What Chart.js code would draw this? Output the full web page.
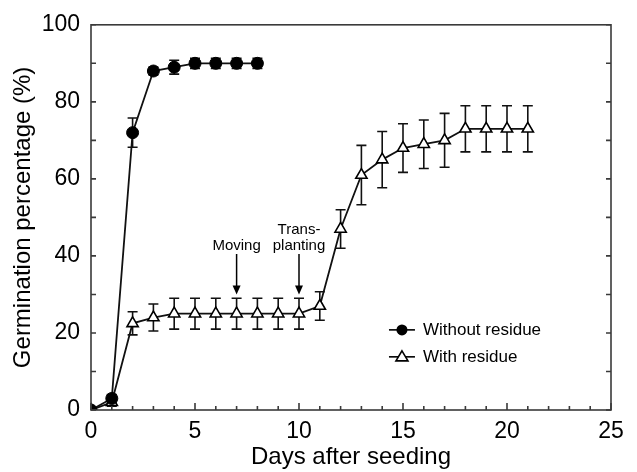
<!DOCTYPE html>
<html>
<head>
<meta charset="utf-8">
<script src="https://cdn.jsdelivr.net/npm/chart.js@4.4.1/dist/chart.umd.min.js"></script>
<style>
  html, body { margin: 0; padding: 0; background: #fff; }
  #wrap { width: 637px; height: 472px; }
</style>
</head>
<body>
<div id="wrap"><canvas id="germChart"></canvas></div>
<script>
// days after seeding
const withoutDays = [0, 1, 2, 3, 4, 5, 6, 7, 8]
const withoutResidue = [0, 3, 72, 88, 89, 90, 90, 90, 90]
const withoutErr = [0, 1, 3.8, 1, 1.8, 1.3, 1.3, 1.3, 1.3]

const withDays = [0, 1, 2, 3, 4, 5, 6, 7, 8, 9, 10, 11, 12, 13, 14, 15, 16, 17, 18, 19, 20, 21]
const withResidue = [0, 2, 22.5, 24, 25, 25, 25, 25, 25, 25, 25, 27, 47, 61, 65, 68, 69, 70, 73, 73, 73, 73]
const withErr = [0, 1, 3, 3.5, 4, 4, 4, 4, 4, 4, 4, 3.7, 5, 7.7, 7.3, 6.3, 6.3, 7, 6, 6, 6, 6]

const seriesNames = ['Without residue', 'With residue']

// arrows: day, text lines, arrow from -> to (in %)
const noteDays = [7, 10]
const noteLines = [['Moving'], ['Trans-', 'planting']]
const noteFrom = [40.5, 40.5]
const noteTo = [30, 30]

const xTicks = [0, 5, 10, 15, 20, 25]
const yTicks = [0, 20, 40, 60, 80, 100]

const FONT = '"Liberation Sans", Arial, sans-serif'
Chart.defaults.font.family = FONT
Chart.defaults.color = '#000'

const frameColor = '#3a3a3a'

const errorBars = {
    id: 'errorBars',
    beforeDatasetsDraw(chart) {
        const ctx = chart.ctx
        const x = chart.scales.x, y = chart.scales.y
        const sets = [[withoutDays, withoutResidue, withoutErr], [withDays, withResidue, withErr]]
        ctx.save()
        ctx.strokeStyle = '#111'
        ctx.lineWidth = 1.6
        sets.forEach(([d, v, e]) => {
            d.forEach((day, i) => {
                if (!e[i]) return
                const px = x.getPixelForValue(day)
                const top = y.getPixelForValue(v[i] + e[i])
                const bot = y.getPixelForValue(v[i] - e[i])
                ctx.beginPath()
                ctx.moveTo(px, top); ctx.lineTo(px, bot)
                ctx.moveTo(px - 5, top); ctx.lineTo(px + 5, top)
                ctx.moveTo(px - 5, bot); ctx.lineTo(px + 5, bot)
                ctx.stroke()
            })
        })
        ctx.restore()
    }
}

const frame = {
    id: 'frame',
    afterDatasetsDraw(chart) {
        const ctx = chart.ctx
        const a = chart.chartArea
        const x = chart.scales.x, y = chart.scales.y
        ctx.save()
        ctx.strokeStyle = frameColor
        ctx.lineWidth = 1.6
        ctx.strokeRect(a.left, a.top, a.right - a.left, a.bottom - a.top)
        ctx.beginPath()
        for (let d = 0; d <= 25; d++) {
            const px = x.getPixelForValue(d)
            const len = d % 5 === 0 ? 7 : 4
            ctx.moveTo(px, a.bottom); ctx.lineTo(px, a.bottom - len)
        }
        for (let v = 0; v <= 100; v += 10) {
            const py = y.getPixelForValue(v)
            ctx.moveTo(a.left, py); ctx.lineTo(a.left + 5, py)
            ctx.moveTo(a.right, py); ctx.lineTo(a.right - 5, py)
        }
        ctx.stroke()
        ctx.restore()
    }
}

const notes = {
    id: 'notes',
    afterDraw(chart) {
        const ctx = chart.ctx
        const x = chart.scales.x, y = chart.scales.y
        ctx.save()
        ctx.fillStyle = '#000'
        ctx.strokeStyle = '#000'
        ctx.lineWidth = 1.5
        ctx.font = '15px ' + FONT
        ctx.textAlign = 'center'
        ctx.textBaseline = 'alphabetic'
        noteDays.forEach((day, i) => {
            const px = x.getPixelForValue(day)
            const y0 = y.getPixelForValue(noteFrom[i])
            const y1 = y.getPixelForValue(noteTo[i])
            const lines = noteLines[i]
            lines.forEach((t, k) => {
                ctx.fillText(t, px, y0 - 4 - (lines.length - 1 - k) * 16)
            })
            ctx.beginPath()
            ctx.moveTo(px, y0); ctx.lineTo(px, y1 - 6)
            ctx.stroke()
            ctx.beginPath()
            ctx.moveTo(px - 4, y1 - 9); ctx.lineTo(px + 4, y1 - 9); ctx.lineTo(px, y1)
            ctx.closePath()
            ctx.fill()
        })

        // legend
        const a = chart.chartArea
        const lx = a.left + (a.right - a.left) * 0.598
        const ly = [a.top + (a.bottom - a.top) * 0.792, a.top + (a.bottom - a.top) * 0.862]
        ctx.font = '17px ' + FONT
        ctx.textAlign = 'left'
        ctx.textBaseline = 'middle'
        ctx.lineWidth = 1.6
        ly.forEach((yy, i) => {
            ctx.strokeStyle = '#000'
            ctx.beginPath()
            ctx.moveTo(lx - 13, yy); ctx.lineTo(lx + 13, yy)
            ctx.stroke()
            ctx.beginPath()
            if (i === 0) {
                ctx.arc(lx, yy, 5.5, 0, Math.PI * 2)
                ctx.fillStyle = '#000'
                ctx.fill()
            } else {
                ctx.moveTo(lx, yy - 6); ctx.lineTo(lx + 6, yy + 4); ctx.lineTo(lx - 6, yy + 4)
                ctx.closePath()
                ctx.fillStyle = '#fff'
                ctx.fill()
                ctx.stroke()
            }
            ctx.fillStyle = '#000'
            ctx.fillText(seriesNames[i], lx + 21, yy)
        })
        ctx.restore()
    }
}

const toXY = (d, v) => d.map((day, i) => ({ x: day, y: v[i] }))

new Chart(document.getElementById('germChart'), {
    type: 'line',
    data: {
        datasets: [{
            label: seriesNames[0],
            data: toXY(withoutDays, withoutResidue),
            borderColor: '#111',
            borderWidth: 1.8,
            pointStyle: 'circle',
            pointRadius: 6,
            pointBackgroundColor: '#000',
            pointBorderColor: '#000',
            pointBorderWidth: 1,
            tension: 0,
        }, {
            label: seriesNames[1],
            data: toXY(withDays, withResidue),
            borderColor: '#111',
            borderWidth: 1.8,
            pointStyle: 'triangle',
            pointRadius: 6.5,
            pointBackgroundColor: '#fff',
            pointBorderColor: '#000',
            pointBorderWidth: 1.6,
            tension: 0,
        }]
    },
    options: {
        responsive: true,
        maintainAspectRatio: false,
        animation: false,
        layout: {
            padding: { left: 0, right: 26, top: 20, bottom: 0 }
        },
        plugins: {
            legend: { display: false },
            tooltip: { enabled: false },
        },
        scales: {
            x: {
                type: 'linear',
                min: 0,
                max: 25,
                afterBuildTicks: (s) => { s.ticks = xTicks.map(v => ({ value: v })) },
                afterFit: (s) => { s.height = 62 },
                grid: { display: false, drawTicks: false },
                border: { display: false },
                ticks: {
                    font: { size: 23 },
                    padding: 8,
                    maxRotation: 0,
                },
                title: {
                    display: true,
                    text: 'Days after seeding',
                    font: { size: 24 },
                    padding: { top: 0, bottom: 0 },
                },
            },
            y: {
                min: 0,
                max: 100,
                afterBuildTicks: (s) => { s.ticks = yTicks.map(v => ({ value: v })) },
                afterFit: (s) => { s.width = 91 },
                grid: { display: false, drawTicks: false },
                border: { display: false },
                ticks: {
                    font: { size: 23 },
                    padding: 11,
                },
                title: {
                    display: true,
                    text: 'Germination percentage (%)',
                    font: { size: 24 },
                    padding: { top: 9, bottom: 0 },
                },
            },
        },
    },
    plugins: [errorBars, frame, notes],
})
</script>
</body>
</html>
